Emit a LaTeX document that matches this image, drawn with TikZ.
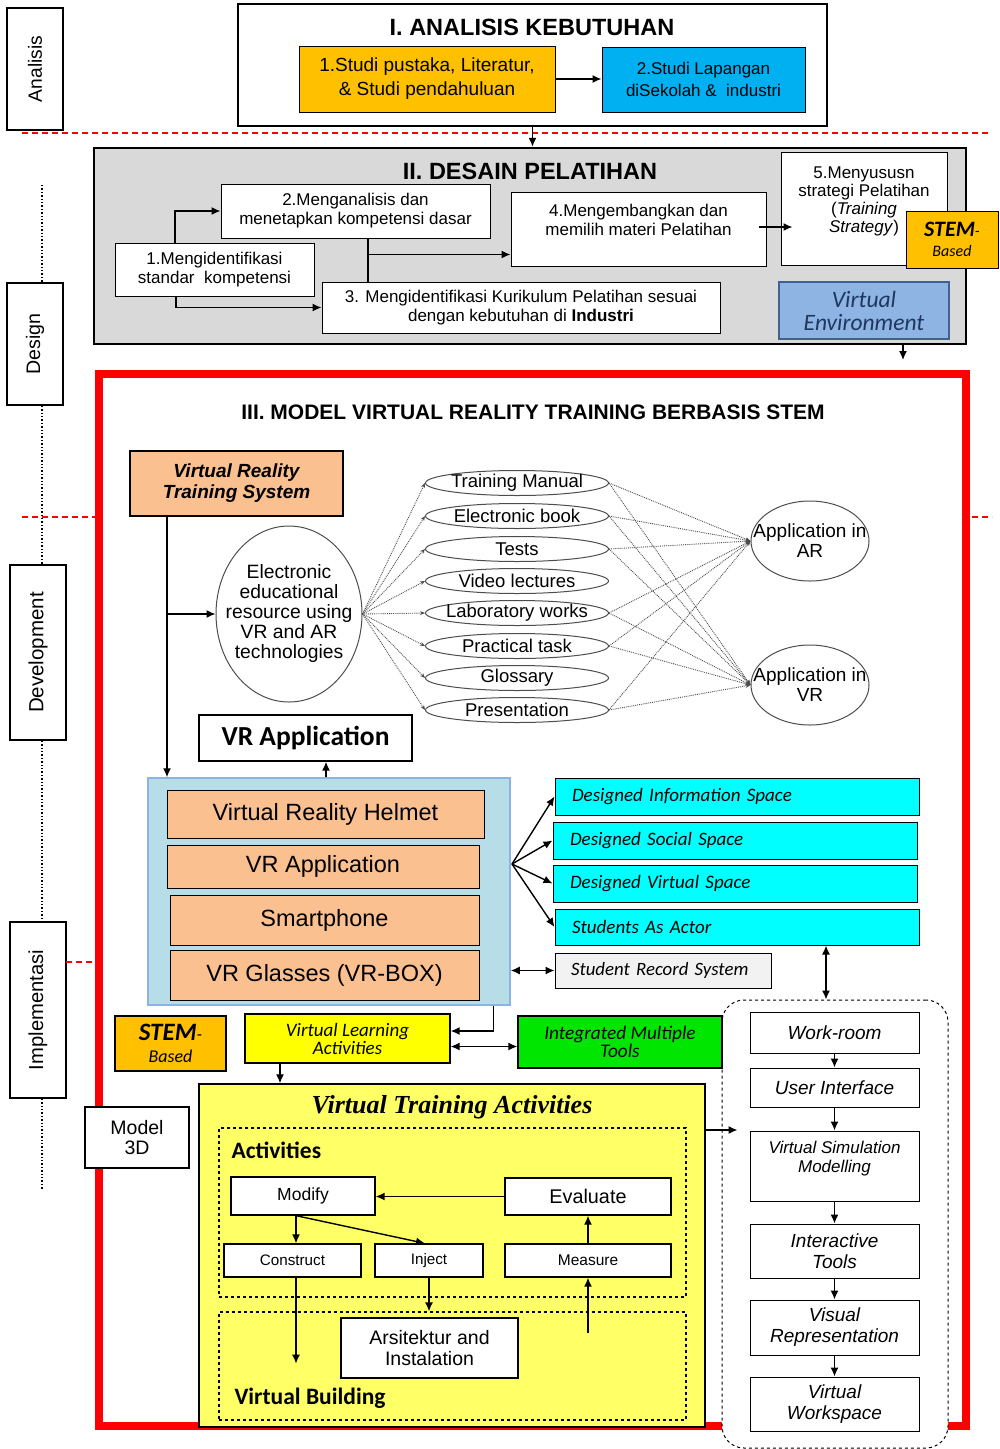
\documentclass[tikz,border=0pt]{standalone}
\usepackage{fontspec}
\usepackage{graphicx}
\setmainfont{Liberation Sans}
\newfontfamily\calib{Carlito}
\newfontfamily\serf{Liberation Serif}
\usetikzlibrary{arrows.meta,shapes.geometric}

\definecolor{gold}{HTML}{FFC000}
\definecolor{sky}{HTML}{00B0F0}
\definecolor{paneGray}{HTML}{D9D9D9}
\definecolor{veBlue}{HTML}{8DB4E2}
\definecolor{veEdge}{HTML}{41618F}
\definecolor{veText}{HTML}{1F3760}
\definecolor{peach}{HTML}{FAC090}
\definecolor{paleBlue}{HTML}{B7DEE8}
\definecolor{paleEdge}{HTML}{8DB3E2}
\definecolor{aqua}{HTML}{00FFFF}
\definecolor{lightGray}{HTML}{F2F2F2}
\definecolor{lemon}{HTML}{FFFF00}
\definecolor{lime}{HTML}{00E600}
\definecolor{cream}{HTML}{FFFF66}
\definecolor{ink}{HTML}{4D4D4D}

% font size helper and a box placed by its corners (x1,y1)-(x2,y2)
\newcommand\fs[2]{\fontsize{#1}{#2}\selectfont}
\newcommand\bx[7]{\node[#6,minimum width={(#4-#2)*1pt},minimum height={(#5-#3)*1pt}] (#1) at ({(#2+#4)/2},{(#3+#5)/2}) {#7};}

\begin{document}
\begin{tikzpicture}[x=1pt,y=-1pt,
  box/.style={draw, fill=white, line width=1pt, align=center, inner sep=0pt},
  sidebox/.style={draw, fill=white, line width=1.6pt, inner sep=0pt},
  arr/.style={line width=1.4pt, -{Latex[length=9pt,width=8pt]}},
  darr/.style={line width=1.4pt, {Latex[length=9pt,width=8pt]}-{Latex[length=9pt,width=8pt]}},
  dotarr/.style={ink, densely dotted, line width=0.9pt, -{Stealth[length=5pt,width=4pt]}},
  reddash/.style={red, line width=1.2pt, dash pattern=on 6pt off 4pt},
  vdots/.style={dotted, line width=1.4pt},
  sell/.style={ellipse, draw=ink, line width=1pt, fill=white, inner sep=0pt,
    minimum width=183pt, minimum height=25pt},
  elltext/.style={font={\fs{18.5}{19}}},
  bigell/.style={ellipse, draw=ink, line width=1pt, fill=white, inner sep=0pt},
  rbox/.style={box, font={\itshape\fs{19}{21}}},
  cyanbox/.style={box, fill=aqua, text width=330pt, align=left, font={\calib\itshape\fs{19}{20}}},
  peachbox/.style={box, fill=peach, font={\fs{23.5}{25}}}
]
\useasboundingbox (0,0) rectangle (1000,1449);
\fill[white] (0,0) rectangle (1000,1449);

% ---------- phase labels on the left ----------
\node[sidebox, minimum width=56pt, minimum height=122pt] (lana) at (35,69) {\rotatebox{90}{\fs{19.2}{19}Analisis}};
\node[sidebox, minimum width=56pt, minimum height=122pt] (ldes) at (35,344) {\rotatebox{90}{\fs{19.6}{19}Design}};
\node[sidebox, minimum width=56pt, minimum height=175pt] (ldev) at (38,652.5) {\rotatebox{90}{\fs{20.5}{20}Development}};
\node[sidebox, minimum width=56pt, minimum height=176pt] (limp) at (38,1010) {\rotatebox{90}{\fs{20.2}{20}Implementasi}};
\coordinate (dtop) at (42,185);
\coordinate (dbot) at (42,1190);
\draw[vdots] (dtop) -- (dtop |- ldes.north);
\draw[vdots] (dtop |- ldes.south) -- (dtop |- ldev.north);
\draw[vdots] (dtop |- ldev.south) -- (dtop |- limp.north);
\draw[vdots] (dtop |- limp.south) -- (dbot);

% phase separators
\draw[reddash] (22,133) -- (990,133);
\draw[reddash] (22,517) -- (95,517);
\draw[reddash] (972,517) -- (992,517);
\draw[reddash] (66,962) -- (95,962);

% ---------- I. Analisis kebutuhan ----------
\bx{secI}{238}{4}{827}{126}{draw, line width=2.5pt, fill=white}{}
\node[font={\bfseries\fs{23.5}{25}}] (tI) at (532,27) {I. ANALISIS KEBUTUHAN};
\bx{s1}{299}{46}{555}{112}{box, fill=gold, font={\fs{19}{24}}}{1.Studi pustaka, Literatur,\\\& Studi pendahuluan}
\bx{s2}{602}{47}{805}{112}{box, fill=sky, font={\fs{17}{22}}}{2.Studi Lapangan\\diSekolah \&~ industri}
\draw[arr] (s1.east) -- (s1.east -| s2.west);

% ---------- II. Desain pelatihan ----------
\bx{secII}{94}{148}{966}{344}{draw, line width=2.5pt, fill=paneGray}{}
\draw[arr] (secI.south) -- (secI.south |- secII.north);
\node[font={\bfseries\fs{23.5}{25}}] (tII) at (530,171) {II. DESAIN PELATIHAN};
\bx{d2}{221}{184}{490}{238}{box, font={\fs{17}{19}}}{2.Menganalisis dan\\menetapkan kompetensi dasar}
\bx{d1}{115}{243}{314}{296}{box, font={\fs{17}{19}}}{1.Mengidentifikasi\\standar~ kompetensi}
\bx{d3}{322}{282}{720}{333}{box, font={\fs{17}{19}}}{3. Mengidentifikasi Kurikulum Pelatihan sesuai\\dengan kebutuhan di \textbf{Industri}}
\bx{d4}{511}{192}{766}{266}{box, font={\fs{17}{19}}}{4.Mengembangkan dan\\memilih materi Pelatihan\\~}
\bx{d5}{781}{152}{947}{265}{box, font={\fs{17}{18}}}{5.Menyususn\\strategi Pelatihan\\(\textit{Training}\\\textit{Strategy})\\~}
\bx{stemA}{906}{211}{998}{268}{box, fill=gold, font={\calib\itshape\fs{16}{20}}}{{\bfseries\fs{22}{22}STEM}-\\Based}
\bx{ve}{779}{282}{949}{339}{box, fill=veBlue, draw=veEdge, line width=1.5pt, text=veText, font={\calib\itshape\fs{23.5}{23}}}{Virtual\\Environment}

\coordinate (d1up) at ([xshift=-39.5pt]d1.north);
\draw[arr] (d1up) |- (d2.west);
\coordinate (d1dn) at ([xshift=-38.5pt]d1.south);
\draw[arr] (d1dn) |- (d3.west);
\coordinate (d2dn) at ([xshift=12.5pt]d2.south);
\draw[line width=1.2pt] (d2dn) -- (d2dn |- d3.north);
\coordinate (d2mid) at ([xshift=12.5pt,yshift=-16pt]d2.south);
\draw[arr] (d2mid) -- (d2mid -| d4.west);
\coordinate (d45) at ([xshift=-8pt,yshift=2pt]d4.east);
\coordinate (d5in) at ([xshift=12pt]d5.west);
\draw[arr] (d45) -- (d45 -| d5in);
\coordinate (veout) at (903,344);
\draw[arr] (veout) -- ++(0,16);

% ---------- III. Model VR training ----------
\draw[red, line width=8pt] (99,374) rectangle (966,1426);
\node[font={\bfseries\fs{21}{22}}] (tIII) at (533,412) {III. MODEL VIRTUAL REALITY TRAINING BERBASIS STEM};

\bx{vrts}{130}{451}{343}{516}{box, fill=peach, line width=1.3pt, font={\bfseries\itshape\fs{19}{21}}}{Virtual Reality\\Training System}

\node[bigell, minimum width=146pt, minimum height=176pt] (eer) at (289,614) {};
\node[align=center, font={\fs{19.3}{20}}] (eertxt) at (eer) {Electronic\\educational\\resource using\\VR and AR\\technologies};

\node[sell, label={[elltext]center:Training Manual}] (e1) at (517,483) {};
\node[sell, label={[elltext]center:Electronic book}] (e2) at (517,516) {};
\node[sell, label={[elltext]center:Tests}] (e3) at (517,549) {};
\node[sell, label={[elltext]center:Video lectures}] (e4) at (517,581) {};
\node[sell, label={[elltext]center:Laboratory works}] (e5) at (517,613) {};
\node[sell, label={[elltext]center:Practical task}] (e6) at (517,646) {};
\node[sell, label={[elltext]center:Glossary}] (e7) at (517,678) {};
\node[sell, label={[elltext]center:Presentation}] (e8) at (517,710) {};

\node[bigell, minimum width=118pt, minimum height=80pt] (ar) at (810,541) {};
\node[align=center, font={\fs{19}{20}}] (artxt) at (ar) {Application in\\AR};
\node[bigell, minimum width=118pt, minimum height=80pt] (vr) at (810,685) {};
\node[align=center, font={\fs{19}{20}}] (vrtxt) at (vr) {Application in\\VR};

\foreach \e in {e1,e2,e3,e4,e5,e6,e7,e8}
  \draw[dotarr] (eer.east) -- (\e.west);
\foreach \e in {e1,e2,e3,e5,e6,e8}{
  \draw[dotarr] (\e.east) -- (ar.west);
  \draw[dotarr] (\e.east) -- (vr.west);
}

\bx{vrapp}{199}{715}{412}{761}{box, line width=1.3pt, font={\calib\bfseries\fs{27.5}{28}}}{VR Application}

\bx{blue}{148}{778}{510}{1005}{draw=paleEdge, line width=1.5pt, fill=paleBlue}{}
\bx{vr1}{167}{790}{484}{838}{peachbox}{Virtual Reality Helmet}
\bx{vr2}{167}{845}{479}{888}{peachbox}{VR Application}
\bx{vr3}{170}{895}{479}{945}{peachbox}{Smartphone}
\bx{vr4}{170}{950}{479}{1000}{peachbox}{VR Glasses (VR-BOX)}

\coordinate (vline) at ([xshift=-69.5pt]vrts.south);
\draw[arr] (vline) -- (vline |- blue.north);
\draw[arr] (vline |- eer.west) -- (eer.west);
\coordinate (vrup) at ([xshift=20.5pt]vrapp.south);
\draw[arr] (vrup |- blue.north) -- (vrup);

\bx{c1}{555}{778}{919}{815}{cyanbox}{Designed Information Space}
\bx{c2}{553}{822}{917}{859}{cyanbox}{Designed Social Space}
\bx{c3}{553}{865}{917}{902}{cyanbox}{Designed Virtual Space}
\bx{c4}{555}{909}{919}{945}{cyanbox}{Students As Actor}
\bx{srs}{555}{953}{771}{988}{box, fill=lightGray, text width=184pt, align=left, font={\calib\itshape\fs{18.8}{20}}}{Student Record System}

\coordinate (fan) at (512,864);
\foreach \c in {c1,c2,c3,c4}
  \draw[arr] (fan) -- (\c.west);
\draw[darr] (blue.east |- srs.west) -- (srs.west);

% right column: from work-room to workspace
\bx{rbox}{722}{1000}{948}{1448}{draw, dashed, line width=1pt, fill=white, rounded corners=22pt}{}
\coordinate (actdn) at ([xshift=89pt]c4.south);
\draw[darr] (actdn) -- (actdn |- rbox.north);
\bx{w1}{750}{1012}{919}{1053}{rbox}{Work-room}
\bx{w2}{750}{1068}{919}{1107}{rbox}{User Interface}
\bx{w3}{750}{1131}{919}{1201}{box, font={\itshape\fs{17}{19}}}{Virtual Simulation\\Modelling\\~}
\bx{w4}{750}{1224}{919}{1278}{rbox}{Interactive\\Tools}
\bx{w5}{750}{1300}{919}{1355}{rbox}{Visual\\Representation}
\bx{w6}{750}{1377}{919}{1431}{rbox}{Virtual\\Workspace}
\draw[arr] (w1.south) -- (w2.north);
\draw[arr] (w2.south) -- (w3.north);
\draw[arr] (w3.south) -- (w4.north);
\draw[arr] (w4.south) -- (w5.north);
\draw[arr] (w5.south) -- (w6.north);

% learning activities row
\bx{stemB}{115}{1016}{226}{1071}{box, fill=gold, line width=1.3pt, font={\calib\itshape\fs{18}{22}}}{{\bfseries\fs{25}{24}STEM}-\\Based}
\bx{vla}{245}{1014}{450}{1063}{box, fill=lemon, line width=1.3pt, font={\calib\itshape\fs{19}{18}}}{Virtual Learning\\Activities}
\bx{imt}{518}{1016}{722}{1068}{box, fill=lime, line width=1.3pt, font={\calib\itshape\fs{19.3}{18}}}{Integrated Multiple\\Tools}
\bx{m3d}{85}{1107}{189}{1168}{box, line width=1.3pt, font={\fs{19.5}{20}}}{Model\\3D}

\draw[arr] ([xshift=-17pt]blue.south east) |- ([yshift=7.5pt]vla.east);
\draw[darr] ([yshift=-8pt]vla.east) -- ([yshift=-8pt]vla.east -| imt.west);

% virtual training activities
\bx{vta}{199}{1084}{705}{1427}{draw, line width=1.5pt, fill=cream}{}
\coordinate (vladn) at ([xshift=-67.5pt]vla.south);
\draw[arr] (vladn) -- (vladn |- vta.north);
\coordinate (vtaout) at ([yshift=125.5pt]vta.east);
\coordinate (rin) at ([xshift=16pt]rbox.west);
\draw[arr] (vtaout) -- (vtaout -| rin);
\node[font={\serf\bfseries\itshape\fs{26}{27}}] (tvta) at (452,1107) {Virtual Training Activities};

\bx{act}{219}{1128}{686}{1297}{draw, dashed, line width=1.2pt}{}
\node[anchor=west, font={\calib\bfseries\fs{23.5}{24}}] (actlbl) at (228,1150) {Activities};
\bx{vb}{219}{1312}{686}{1420}{draw, dashed, line width=1.2pt}{}
\node[anchor=west, font={\calib\bfseries\fs{23.5}{24}}] (vblbl) at (231,1398) {Virtual Building};

\bx{mod}{231}{1177}{375}{1215}{box, line width=1.3pt, font={\fs{17.5}{18}}}{Modify}
\bx{ev}{505}{1178}{671}{1215}{box, line width=1.3pt, font={\fs{19.8}{20}}}{Evaluate}
\bx{con}{224}{1244}{361}{1277}{box, line width=1.3pt, font={\fs{15.2}{17}}}{Construct}
\bx{inj}{375}{1244}{483}{1277}{box, line width=1.3pt, font={\fs{15.2}{17}}}{Inject}
\bx{mea}{505}{1244}{671}{1277}{box, line width=1.3pt, font={\fs{15.5}{17}}}{Measure}
\bx{ars}{341}{1318}{518}{1378}{box, line width=1.3pt, font={\fs{19.5}{21}}}{Arsitektur and\\Instalation}

\draw[arr] (ev.west) -- (ev.west -| mod.east);
\coordinate (modout) at ([xshift=-7pt]mod.south);
\draw[arr] (modout) -- (modout |- con.north);
\draw[arr] (modout) -- ([xshift=-4pt]inj.north);
\draw[arr] (mea.north) -- (mea.north |- ev.south);
\coordinate (condn) at ([xshift=3.5pt]con.south);
\draw[arr] (condn) -- ++(0,86);
\draw[arr] (inj.south) -- (inj.south |- vb.north);
\coordinate (measrc) at ([yshift=-55pt]mea.south);
\draw[arr] (measrc) -- (mea.south);
\end{tikzpicture}
\end{document}
